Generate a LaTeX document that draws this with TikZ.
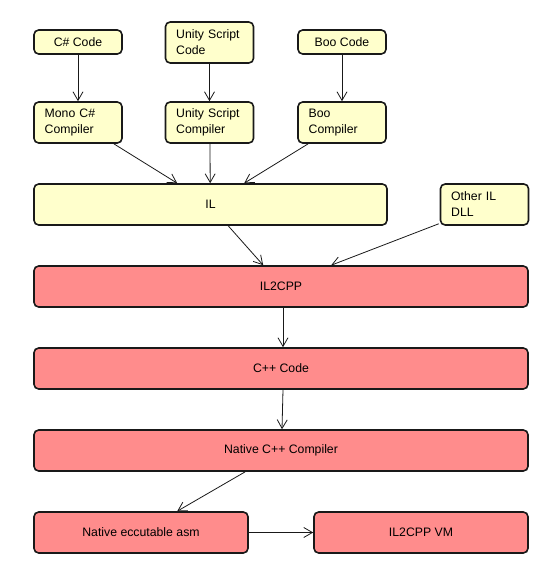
\documentclass[tikz,border=0pt]{standalone}
\usepackage{fontspec}
\setmainfont{Liberation Sans}
\usetikzlibrary{arrows.meta,calc}
\definecolor{boxyellow}{RGB}{255,255,204}
\definecolor{boxred}{RGB}{255,140,140}
\definecolor{edge}{RGB}{25,25,25}
\begin{document}
\begin{tikzpicture}[x=0.75pt,y=-0.75pt,
  base/.style={draw=edge,line width=1.2pt,rounded corners=3.5pt,inner sep=0pt,
    font=\fontsize{9.2}{12}\selectfont},
  ybox/.style={base,fill=boxyellow},
  rbox/.style={base,fill=boxred},
  small/.style={minimum width=66pt,minimum height=30.75pt},
  tiny/.style={minimum width=66pt,minimum height=18pt},
  lefttext/.style={text width=50pt,align=left},
  arr/.style={draw=edge,line width=0.6pt,-{Straight Barb[length=6.5pt,width=7.5pt,line width=0.6pt]}}]
\useasboundingbox (0,0) rectangle (560,575);
% top row
\node[ybox,tiny] (cs) at (78,42) {C\# Code};
\node[ybox,small,lefttext] (usc) at (209.5,42.5) {Unity Script\\Code};
\node[ybox,tiny] (booc) at (342,42) {Boo Code};
% compilers
\node[ybox,small,lefttext] (mono) at (78,122.5) {Mono C\#\\Compiler};
\node[ybox,small,lefttext] (usco) at (209.5,122.5) {Unity Script\\Compiler};
\node[ybox,small,lefttext] (boocomp) at (342,122.5) {Boo\\Compiler};
% IL row
\node[ybox,minimum width=264.75pt,minimum height=30.75pt] (il) at (210.5,204.5) {IL};
\node[ybox,small,lefttext] (other) at (484.5,204.5) {Other IL\\DLL};
% red boxes
\node[rbox,minimum width=370.5pt,minimum height=30.75pt] (il2cpp) at (281,286.5) {IL2CPP};
\node[rbox,minimum width=370.5pt,minimum height=30.75pt] (cpp) at (281,368.5) {C++ Code};
\node[rbox,minimum width=370.5pt,minimum height=30.75pt] (native) at (281,450.5) {Native C++ Compiler};
\node[rbox,minimum width=160.5pt,minimum height=30.75pt] (asm) at (141,532.5) {Native eccutable asm};
\node[rbox,minimum width=160.5pt,minimum height=30.75pt] (vm) at (421,532.5) {IL2CPP VM};
% connectors
\draw[arr] (cs.south) -- (mono.north);
\draw[arr] (usc.south) -- (usco.north);
\draw[arr] (booc.south) -- (boocomp.north);
\draw[arr] ($(mono.south east)+(-9,0)$) -- ($(il.north west)+(144,0)$);
\draw[arr] ($(usco.south)+(0.5,0)$) -- ($(il.north west)+(177,0)$);
\draw[arr] ($(boocomp.south west)+(11,0)$) -- ($(il.north west)+(211,0)$);
\draw[arr] ($(il.south west)+(195,0)$) -- ($(il2cpp.north west)+(230,0)$);
\draw[arr] ($(other.south west)+(-1,-2)$) -- ($(il2cpp.north west)+(298,0)$);
\draw[arr] ($(il2cpp.south)+(2,0)$) -- ($(cpp.north)+(2,0)$);
\draw[arr] ($(cpp.south)+(2,0)$) -- ($(native.north)+(1,0)$);
\draw[arr] ($(native.south west)+(212,0)$) -- ($(asm.north west)+(144,0)$);
\draw[arr] (asm.east) -- (vm.west);
\end{tikzpicture}
\end{document}
